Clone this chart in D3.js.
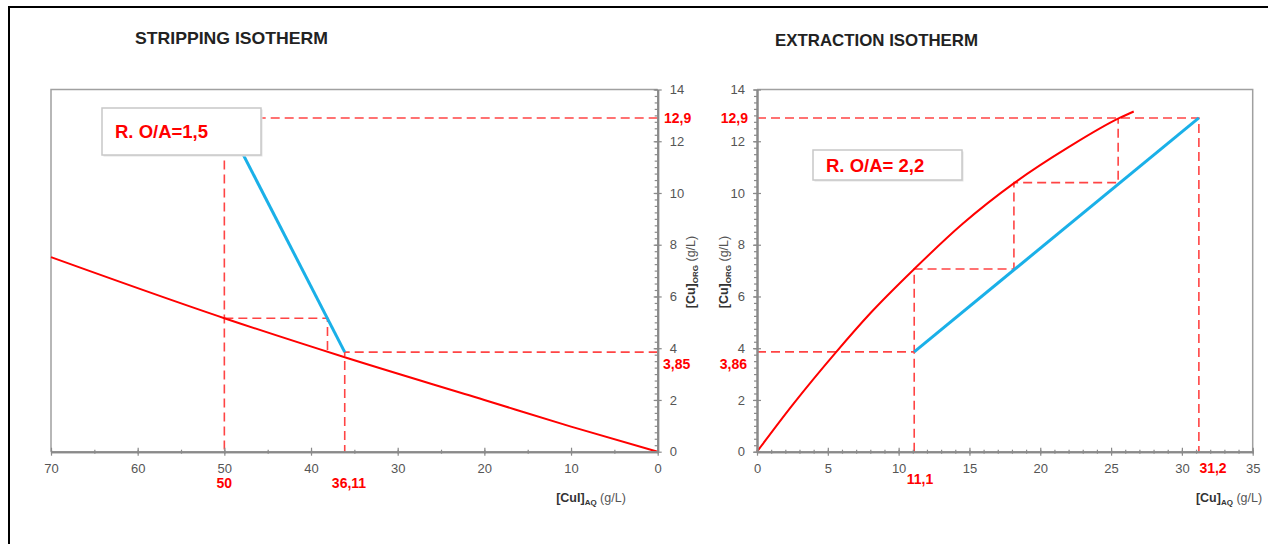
<!DOCTYPE html>
<html>
<head>
<meta charset="utf-8">
<script src="https://cdn.jsdelivr.net/npm/d3@7"></script>
<style>
  body { margin: 0; background: #fff; }
  svg { display: block; font-family: "Liberation Sans", Arial, sans-serif; }
</style>
</head>
<body>
<div id="chart"></div>
<script>
// stripping isotherm (x axis runs 70 -> 0)
var stripEqX = [0, 10, 20, 36.11, 50, 70];
var stripEqY = [0, 0.97, 2.0, 3.65, 5.16, 7.52];
var stripOpX = [36.11, 50];
var stripOpY = [3.85, 12.9];
var stripGuides = [
	[[0, 12.9], [50, 12.9], [50, 0]],
	[[50, 5.16], [38.1, 5.16], [38.1, 3.82]],
	[[0, 3.85], [36.11, 3.85], [36.11, 0]]
];
var stripXTicks = [70, 60, 50, 40, 30, 20, 10, 0];

// extraction isotherm
var extEqX = [0, 2.5, 5.6, 8, 11.1, 14.5, 18.2, 22, 25.6, 26.6];
var extEqY = [0, 1.8, 3.86, 5.35, 7.06, 8.8, 10.4, 11.77, 12.9, 13.15];
var extOpX = [11.1, 31.2];
var extOpY = [3.86, 12.9];
var extGuides = [
	[[0, 3.86], [11.1, 3.86]],
	[[11.1, 0], [11.1, 7.06], [18.14, 7.06], [18.14, 10.4], [25.5, 10.4], [25.5, 12.9]],
	[[0, 12.9], [31.2, 12.9], [31.2, 0]]
];
var extXTicks = [0, 5, 10, 15, 20, 25, 30, 35];

var yTicks = [0, 2, 4, 6, 8, 10, 12, 14];

var width = 1268, height = 544;
var red = "#ff0000", dashRed = "#ff4444", blue = "#1ab0e8", grey = "#8a8a8a";

var svg = d3.select("#chart").append("svg")
	.attr("width", width)
	.attr("height", height);

// outer frame
svg.append("path")
	.attr("d", "M9,544 V7 H1268")
	.attr("fill", "none")
	.attr("stroke", "#000")
	.attr("stroke-width", 2);

var yScale = d3.scaleLinear().domain([0, 14]).range([451.7, 89.5]);
var xStrip = d3.scaleLinear().domain([70, 0]).range([51, 657.7]);
var xExt = d3.scaleLinear().domain([0, 35]).range([757, 1252.7]);

function zipPts(xs, ys) {
	return xs.map(function(v, i) { return [v, ys[i]]; });
}

function drawPanel(x, opts) {
	var g = svg.append("g");
	var x0 = x.range()[0], x1 = x.range()[1];
	var y0 = yScale.range()[0];

	// plot frame (the two sides without an axis)
	g.append("path")
		.attr("d", opts.frame)
		.attr("fill", "none")
		.attr("stroke", "#a0a0a0")
		.attr("stroke-width", 1.5);

	var line = d3.line().x(function(d) { return x(d[0]); }).y(function(d) { return yScale(d[1]); });

	// dashed stage lines
	g.selectAll("path.guide")
		.data(opts.guides)
		.enter().append("path")
			.attr("class", "guide")
			.attr("d", line)
			.attr("fill", "none")
			.attr("stroke", dashRed)
			.attr("stroke-width", 1.6)
			.attr("stroke-dasharray", "9,5");

	// equilibrium curve
	g.append("path")
		.attr("d", d3.line().x(function(d) { return x(d[0]); }).y(function(d) { return yScale(d[1]); })
			.curve(d3.curveMonotoneX)(opts.eq))
		.attr("fill", "none")
		.attr("stroke", red)
		.attr("stroke-width", 2);

	// operating line
	g.append("path")
		.attr("d", line(opts.op))
		.attr("fill", "none")
		.attr("stroke", blue)
		.attr("stroke-width", 3);

	// x axis
	var lo = Math.min(x.domain()[0], x.domain()[1]), hi = Math.max(x.domain()[0], x.domain()[1]);
	var xMinor = d3.range(lo, hi + 0.001, opts.xMinorStep);
	var xa = g.append("g").attr("transform", "translate(0," + y0 + ")");
	xa.call(d3.axisBottom(x).tickValues(xMinor).tickFormat("").tickSize(2).tickSizeOuter(0));
	xa.selectAll(".tick line").attr("y1", -2);
	var xb = g.append("g").attr("transform", "translate(0," + y0 + ")");
	xb.call(d3.axisBottom(x).tickValues(opts.xTicks).tickFormat(d3.format("d")).tickSize(4).tickSizeOuter(0).tickPadding(8));
	xb.selectAll(".tick line").attr("y1", -4);
	[xa, xb].forEach(function(a) {
		a.select(".domain").attr("stroke", grey).attr("stroke-width", 2);
		a.selectAll(".tick line").attr("stroke", grey).attr("stroke-width", 1.2);
	});
	xb.selectAll(".tick text").attr("fill", "#555").style("font-size", "13px");

	// y axis
	var ax = opts.yRight ? x1 : x0;
	var yMinor = d3.range(0, 14.001, 0.25);
	var ya = g.append("g").attr("transform", "translate(" + ax + ",0)");
	ya.call(d3.axisLeft(yScale).tickValues(yMinor).tickFormat("").tickSize(3).tickSizeOuter(0));
	var yAxis = opts.yRight ? d3.axisRight(yScale) : d3.axisLeft(yScale);
	var yb = g.append("g").attr("transform", "translate(" + ax + ",0)");
	yb.call(yAxis.tickValues(yTicks).tickFormat(d3.format("d")).tickSize(4).tickSizeOuter(0).tickPadding(8));
	yb.selectAll(".tick line").attr("x1", opts.yRight ? -4 : 4);
	[ya, yb].forEach(function(a) {
		a.select(".domain").attr("stroke", grey).attr("stroke-width", 2);
		a.selectAll(".tick line").attr("stroke", grey).attr("stroke-width", 1.2);
	});
	yb.selectAll(".tick text").attr("fill", "#555").style("font-size", "13px");

	// title
	svg.append("text")
		.attr("x", opts.title.x).attr("y", opts.title.y)
		.attr("fill", "#222")
		.style("font-size", "17px").style("font-weight", "bold")
		.attr("textLength", opts.title.len)
		.attr("lengthAdjust", "spacingAndGlyphs")
		.text(opts.title.text);

	// ratio box
	var b = opts.box;
	g.append("rect")
		.attr("x", b.x + 1.5).attr("y", b.y + 1.5).attr("width", b.w).attr("height", b.h)
		.attr("fill", "#e4e4e4");
	g.append("rect")
		.attr("x", b.x).attr("y", b.y).attr("width", b.w).attr("height", b.h)
		.attr("fill", "#fff").attr("stroke", "#c8c8c8").attr("stroke-width", 1.5);
	g.append("text")
		.attr("x", b.x + b.tx).attr("y", b.y + b.h / 2 + 6.5)
		.attr("fill", red)
		.style("font-size", "18.5px").style("font-weight", "bold")
		.text(b.text);

	// red value labels
	g.selectAll("text.val")
		.data(opts.values)
		.enter().append("text")
			.attr("class", "val")
			.attr("x", function(d) { return d.x; })
			.attr("y", function(d) { return d.y; })
			.attr("text-anchor", function(d) { return d.anchor; })
			.attr("dy", "0.35em")
			.attr("fill", red)
			.style("font-size", "14px").style("font-weight", "bold")
			.text(function(d) { return d.t; });

	// axis titles
	var xt = g.append("text")
		.attr("x", opts.xTitle.x).attr("y", 502)
		.attr("text-anchor", "middle")
		.attr("fill", "#333")
		.style("font-size", "12.5px");
	xt.append("tspan").style("font-weight", "bold").text(opts.xTitle.text);
	xt.append("tspan").style("font-weight", "bold").style("font-size", "8px").attr("dy", 3).text("AQ");
	xt.append("tspan").attr("dy", -3).attr("fill", "#555").text(" (g/L)");

	var yt = g.append("text")
		.attr("transform", "translate(" + opts.yTitleX + ",272) rotate(-90)")
		.attr("text-anchor", "middle")
		.attr("fill", "#333")
		.style("font-size", "12.5px");
	yt.append("tspan").style("font-weight", "bold").text("[Cu]");
	yt.append("tspan").style("font-weight", "bold").style("font-size", "8px").attr("dy", 3).text("ORG");
	yt.append("tspan").attr("dy", -3).attr("fill", "#555").text(" (g/L)");
}

drawPanel(xStrip, {
	frame: "M657.7,89.5 H51 V451.7",
	guides: stripGuides,
	eq: zipPts(stripEqX, stripEqY),
	op: zipPts(stripOpX, stripOpY),
	xTicks: stripXTicks,
	xMinorStep: 5,
	yRight: true,
	title: {x: 135, y: 44, text: "STRIPPING ISOTHERM", len: 193},
	box: {x: 102, y: 108, w: 159, h: 47, tx: 13, text: "R. O/A=1,5"},
	values: [
		{t: "12,9", x: 664, y: yScale(12.9), anchor: "start"},
		{t: "3,85", x: 663, y: 364, anchor: "start"},
		{t: "50", x: xStrip(50), y: 483, anchor: "middle"},
		{t: "36,11", x: 349, y: 483, anchor: "middle"}
	],
	xTitle: {x: 591, text: "[CuI]"},
	yTitleX: 695
});

drawPanel(xExt, {
	frame: "M757,89.5 H1252.7 V451.7",
	guides: extGuides,
	eq: zipPts(extEqX, extEqY),
	op: zipPts(extOpX, extOpY),
	xTicks: extXTicks,
	xMinorStep: 1,
	yRight: false,
	title: {x: 775, y: 46, text: "EXTRACTION ISOTHERM", len: 203},
	box: {x: 813, y: 150, w: 149, h: 30, tx: 13, text: "R. O/A= 2,2"},
	values: [
		{t: "12,9", x: 748, y: yScale(12.9), anchor: "end"},
		{t: "3,86", x: 747, y: 364, anchor: "end"},
		{t: "11,1", x: 920, y: 479, anchor: "middle"},
		{t: "31,2", x: 1213, y: 468, anchor: "middle"}
	],
	xTitle: {x: 1229, text: "[Cu]"},
	yTitleX: 728
});
</script>
</body>
</html>
